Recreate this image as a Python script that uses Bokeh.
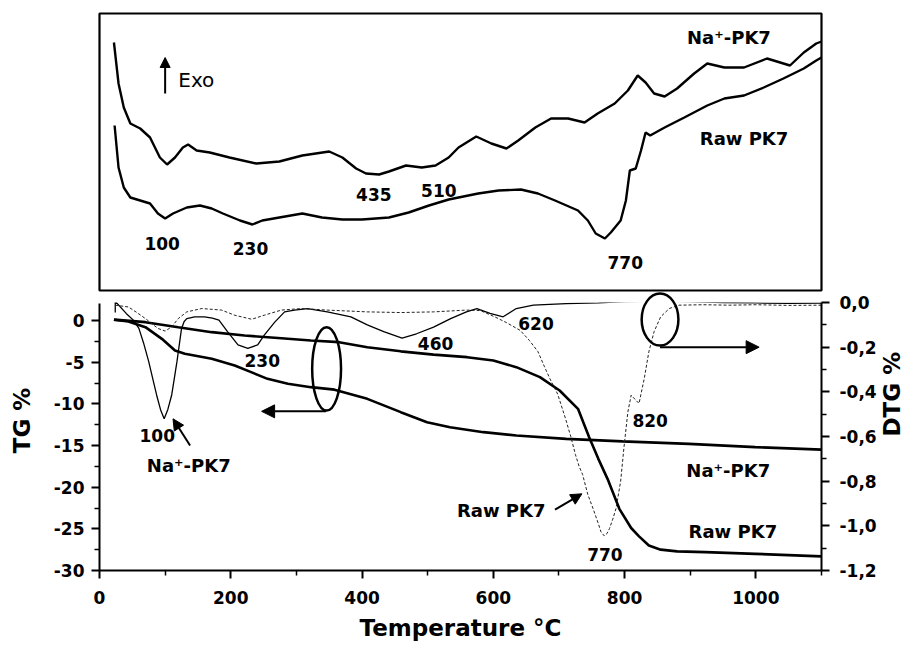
import math
from bokeh.plotting import figure
from bokeh.layouts import column
from bokeh.models import Range1d, LinearAxis, FixedTicker, Label, Arrow, NormalHead
from bokeh.embed import file_html
from bokeh.resources import INLINE

# ---------------- data ----------------
TEMP_TICKS = [0, 200, 400, 600, 800, 1000]
TEMP_MINOR = [100, 300, 500, 700, 900, 1100]
TG_TICKS = [0, -5, -10, -15, -20, -25, -30]
TG_TICK_LABELS = ["0", "-5", "-10", "-15", "-20", "-25", "-30"]
TG_MINOR = [-2.5, -7.5, -12.5, -17.5, -22.5, -27.5]
DTG_TICKS = [0.0, -0.2, -0.4, -0.6, -0.8, -1.0, -1.2]
DTG_TICK_LABELS = ["0,0", "-0,2", "-0,4", "-0,6", "-0,8", "-1,0", "-1,2"]
DTG_MINOR = [-0.1, -0.3, -0.5, -0.7, -0.9, -1.1]

# TG curves (%)
TG_NA_T = [22, 44, 70, 95, 115, 130, 171, 206, 231, 256, 287, 322, 358, 408, 459, 499, 534, 585, 635, 711, 797, 898, 999, 1100]
TG_NA = [0.1, -0.12, -0.8, -2.2, -3.6, -4.0, -4.6, -5.4, -6.2, -7.0, -7.6, -8.0, -8.3, -9.4, -11.0, -12.2, -12.8, -13.4, -13.8, -14.2, -14.5, -14.8, -15.2, -15.5]
TG_RAW_T = [22, 70, 120, 171, 221, 272, 322, 365, 408, 459, 509, 560, 600, 635, 671, 701, 729, 746, 760, 774, 792, 810, 822, 837, 855, 880, 923, 999, 1100]
TG_RAW = [0.1, -0.2, -0.8, -1.4, -1.8, -2.1, -2.4, -2.6, -3.2, -3.7, -4.1, -4.4, -4.8, -5.6, -6.8, -8.4, -10.6, -14.0, -16.6, -19.0, -22.6, -24.9, -25.9, -27.0, -27.5, -27.7, -27.8, -28.0, -28.3]

# DTG curves (%)
DTG_NA_T = [24, 24, 41, 52, 60, 67, 75, 81, 87, 93, 98.5, 104, 110, 114, 118, 122, 125, 129, 133, 145,
            160, 172, 182, 195, 211, 226, 241, 251, 267, 282, 297, 317, 347, 358, 383, 408, 433, 461, 483, 509,
            535, 559, 575, 595, 615, 635, 661, 711, 760, 800, 850, 900, 950, 1000, 1050, 1100]
DTG_NA = [-0.045, 0.005, -0.05, -0.08, -0.116, -0.18, -0.265, -0.34, -0.414, -0.48, -0.52, -0.48, -0.414, -0.34, -0.265, -0.18, -0.116, -0.085, -0.072, -0.064,
          -0.064, -0.07, -0.079, -0.13, -0.19, -0.205, -0.19, -0.146, -0.088, -0.042, -0.034, -0.027, -0.042, -0.049, -0.064, -0.10, -0.13, -0.16, -0.14, -0.11,
          -0.072, -0.042, -0.027, -0.049, -0.064, -0.027, -0.012, -0.005, -0.002, 0.004, 0.006, 0.004, 0.0, -0.002, -0.004, -0.003]
DTG_RAW_T = [24, 44, 57, 70, 89, 100, 110, 120, 133, 156, 186, 206, 232, 251, 277, 308, 347, 408, 459, 509,
             559, 580, 602, 620, 641, 655, 668, 678, 686, 698, 710, 718, 725, 731, 736, 744, 752, 760, 764, 769,
             773, 777, 782, 787, 794, 799, 805, 810, 817, 822, 830, 837, 845, 855, 868, 883, 920, 960, 1000, 1050, 1100]
DTG_RAW = [-0.012, -0.02, -0.045, -0.072, -0.116, -0.128, -0.109, -0.072, -0.042, -0.027, -0.034, -0.057, -0.075, -0.057, -0.034, -0.027, -0.034, -0.042, -0.045, -0.042,
           -0.034, -0.036, -0.064, -0.09, -0.125, -0.17, -0.22, -0.288, -0.34, -0.41, -0.52, -0.6, -0.68, -0.736, -0.77, -0.86, -0.923, -0.99, -1.027, -1.045,
           -1.035, -1.012, -0.97, -0.922, -0.80, -0.65, -0.49, -0.415, -0.437, -0.452, -0.34, -0.22, -0.13, -0.064, -0.027, -0.012, -0.01, -0.012, -0.01, -0.013, -0.012]

# DTA curves (arbitrary units, Exo up)
DTA_NA_T = [22, 29, 37, 47, 62, 77, 92, 103, 115, 127, 135, 148, 168, 198, 239, 274, 309, 350, 370, 391, 406, 426, 441, 467, 491, 512,
            532, 547, 574, 597, 620, 638, 664, 688, 714, 739, 759, 785, 805, 820, 832, 845, 861, 880, 906, 926, 952, 982, 1017, 1052, 1073, 1092, 1100]
DTA_NA = [248, 207, 183, 167, 162, 153, 133, 126, 133, 143, 146, 140, 138, 133, 127, 129, 135, 139, 133, 122, 117, 116, 119, 125, 123, 125,
          133, 143, 154, 147, 142, 150, 163, 172, 172, 168, 177, 187, 200, 215, 208, 197, 194, 202, 217, 227, 223, 223, 232, 225, 238, 247, 249]
DTA_RAW_T = [23, 29, 37, 47, 62, 77, 89, 100, 112, 133, 153, 171, 188, 214, 233, 248, 274, 309, 339, 370, 400, 441, 471, 502, 532, 547,
             577, 608, 642, 668, 694, 729, 744, 756, 770, 779, 794, 802, 808, 817, 825, 832, 839, 861, 891, 926, 952, 982, 1012, 1042, 1073, 1092, 1100]
DTA_RAW = [165, 123, 103, 93, 90, 87, 77, 72, 77, 83, 85, 82, 77, 70, 66, 70, 73, 77, 73, 71, 71, 73, 78, 85, 91, 93,
           97, 100, 101, 97, 90, 80, 70, 57, 52, 58, 70, 90, 120, 122, 140, 158, 155, 163, 173, 185, 192, 195, 203, 212, 222, 230, 233]

NA_NAME = "Na\u207a-PK7"
RAW_NAME = "Raw PK7"
DTA_PEAKS = ["100", "230", "435", "510", "770"]
DTG_PEAKS = ["100", "230", "460", "620", "820", "770"]

FONT = "DejaVu Sans"
NBSP = "\u00a0"

x_range = Range1d(0, 1100)

# ---------------- top panel (DTA) ----------------
top = figure(width=920, height=292, x_range=x_range, y_range=Range1d(0, 277),
             output_backend="svg", toolbar_location=None,
             min_border_left=99, min_border_right=95, min_border_top=13, min_border_bottom=2)
top.xaxis.visible = False
top.yaxis.visible = False
top.grid.visible = False
top.outline_line_color = "black"
top.outline_line_width = 2.2
top.outline_line_alpha = 1.0

top.line(DTA_NA_T, DTA_NA, line_width=2.4, line_color="black")
top.line(DTA_RAW_T, DTA_RAW, line_width=2.4, line_color="black")

# ---------------- bottom panel (TG / DTG) ----------------
p = figure(width=920, height=353, x_range=x_range, y_range=Range1d(-30, 2.16),
           output_backend="svg", toolbar_location=None,
           min_border_left=99, min_border_right=95, min_border_top=10, min_border_bottom=75)
p.extra_y_ranges = {"dtg": Range1d(-1.2, 0.0)}
p.outline_line_color = None
p.grid.visible = False


def style_axis(ax):
    ax.axis_line_width = 2
    ax.axis_line_color = "black"
    ax.major_tick_line_width = 2
    ax.minor_tick_line_width = 1.5
    ax.major_tick_in = 0
    ax.major_tick_out = 8
    ax.minor_tick_in = 0
    ax.minor_tick_out = 5
    ax.major_label_text_font = FONT
    ax.major_label_text_font_style = "bold"
    ax.major_label_text_font_size = "17px"
    ax.major_label_text_color = "black"
    ax.axis_label_text_font = FONT
    ax.axis_label_text_font_style = "bold"
    ax.axis_label_text_font_size = "23px"
    ax.axis_label_text_color = "black"


xax = p.xaxis[0]
xax.ticker = FixedTicker(ticks=TEMP_TICKS, minor_ticks=TEMP_MINOR)
style_axis(xax)
xax.major_label_standoff = 12
xax.axis_label = "Temperature \u00b0C"
xax.axis_label_standoff = 8

yax = p.yaxis[0]
yax.ticker = FixedTicker(ticks=TG_TICKS, minor_ticks=TG_MINOR)
yax.bounds = (-30, 2.0)
yax.major_label_overrides = dict(zip(TG_TICKS, TG_TICK_LABELS))
style_axis(yax)
yax.major_label_standoff = 7
yax.axis_label = NBSP * 4 + "TG %"
yax.axis_label_standoff = 16

rax = LinearAxis(y_range_name="dtg", ticker=FixedTicker(ticks=DTG_TICKS, minor_ticks=DTG_MINOR))
rax.major_label_overrides = dict(zip(DTG_TICKS, DTG_TICK_LABELS))
style_axis(rax)
rax.major_label_standoff = 10
rax.axis_label = "DTG %"
rax.axis_label_standoff = 12
if "axis_label_orientation" in rax.properties():
    rax.axis_label_orientation = math.pi / 2
p.add_layout(rax, "right")

p.line(TG_NA_T, TG_NA, line_width=2.6, line_color="black")
p.line(TG_RAW_T, TG_RAW, line_width=2.6, line_color="black")
p.line(DTG_NA_T, DTG_NA, y_range_name="dtg", line_width=1.3, line_color="black")
p.line(DTG_RAW_T, DTG_RAW, y_range_name="dtg", line_width=1.0, line_color="#222222", line_dash="3 2")

# ellipses grouping the curves
p.ellipse(x=[346], y=[-5.8], width=[44], height=[10], fill_color=None, line_color="black",
          line_width=2.5, level="overlay")
p.ellipse(x=[854], y=[0.12], width=[56], height=[6.24], fill_color=None, line_color="black",
          line_width=2.5, level="overlay")


def arrow(fig, x0, y0, x1, y1, size=11, width=2):
    fig.add_layout(Arrow(x_start=x0, y_start=y0, x_end=x1, y_end=y1,
                         line_width=width, line_color="black",
                         end=NormalHead(size=size, fill_color="black", line_color="black", line_width=1)))


arrow(p, 345, -10.9, 247, -10.9, size=13)
arrow(p, 854, -3.2, 1005, -3.2, size=13)
arrow(p, 138, -15.0, 112, -11.8, size=11)
arrow(p, 694, -22.7, 735, -20.8, size=11)
arrow(top, 100, 197, 100, 233, size=10)


def label(fig, x, y, text, size="17px", style="bold", align="center"):
    fig.add_layout(Label(x=x, y=y, text=text, text_font=FONT,
                         text_font_style=style, text_font_size=size, text_color="black",
                         text_align=align, text_baseline="middle"))


# top panel texts
label(top, 120, 211, "Exo", size="20px", style="normal", align="left")
top_pos = [(95.5, 47), (230, 42), (418, 96), (517, 100), (801, 28)]
for (x, y), t in zip(top_pos, DTA_PEAKS):
    label(top, x, y, t)
label(top, 959, 253, NA_NAME, size="18px")
label(top, 982, 152, RAW_NAME, size="18px")

# bottom panel texts
bot_pos = [(88, -13.8), (248, -4.8), (512, -2.76), (665, -0.36), (839, -12.0), (770, -28.1)]
for (x, y), t in zip(bot_pos, DTG_PEAKS):
    label(p, x, y, t)
label(p, 136, -17.4, NA_NAME, size="18px")
label(p, 612, -22.8, RAW_NAME, size="18px")
label(p, 958, -18.0, NA_NAME, size="18px")
label(p, 965, -25.3, RAW_NAME, size="18px")

layout = column(top, p, spacing=0)
open("out.html", "w").write(file_html(layout, INLINE))
